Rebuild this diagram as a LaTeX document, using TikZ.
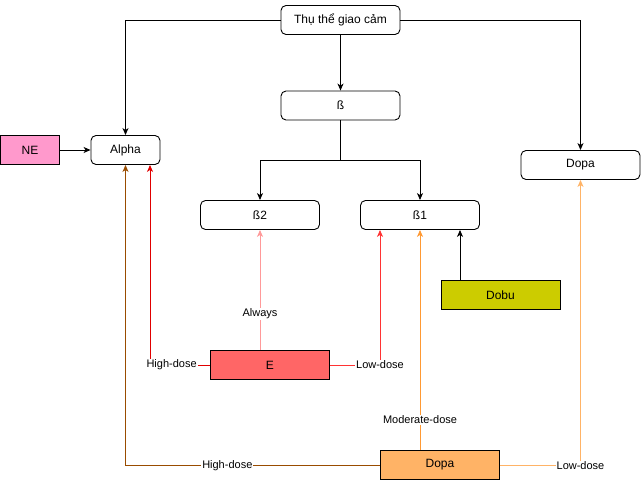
\documentclass[tikz,border=0pt]{standalone}
\usepackage{fontspec}
\setmainfont{Liberation Sans}
\usetikzlibrary{arrows.meta}
\definecolor{nepink}{HTML}{FF99CC}
\definecolor{dobu}{HTML}{CCCC00}
\definecolor{efill}{HTML}{FF6666}
\definecolor{dopafill}{HTML}{FFB366}
\definecolor{cRed}{HTML}{E00000}
\definecolor{cLightRed}{HTML}{FF9999}
\definecolor{cMidRed}{HTML}{FF3333}
\definecolor{cBrown}{HTML}{994C00}
\definecolor{cOrange}{HTML}{FF9933}
\definecolor{cLightOrange}{HTML}{FFB366}
\tikzset{
  box/.style={draw=black, line width=0.9pt, rounded corners=5pt, fill=white,
    minimum width=119pt, minimum height=29pt, inner sep=0pt, font=\fontsize{12}{14}\selectfont},
  sqbox/.style={draw=black, line width=0.9pt, minimum width=119pt, minimum height=29pt,
    inner sep=0pt, font=\fontsize{12}{14}\selectfont},
  conn/.style={line width=0.9pt, -{Stealth[length=7pt,width=6pt,inset=2pt]}},
  lbl/.style={fill=white, inner sep=1pt, font=\fontsize{11}{13}\selectfont}
}
\begin{document}
\begin{tikzpicture}[x=1pt,y=-1pt]
\useasboundingbox (0,0) rectangle (641,481);
% nodes
\node[box] (thu) at (340.5,20) {Thụ thể giao cảm};
\node[box] (beta) at (340.5,105.5) {ß};
\node[sqbox, fill=nepink, minimum width=59pt] (ne) at (30,150) {NE};
\node[box, minimum width=69pt] (alpha) at (125.5,150) {Alpha};
\node[box] (dopaT) at (580.5,165) {Dopa};
\node[box] (b2) at (260,215) {ß2};
\node[box] (b1) at (420,215) {ß1};
\node[sqbox, fill=dobu] (dobu) at (500.5,295) {Dobu};
\node[sqbox, fill=efill] (e) at (270,365) {E};
\node[sqbox, fill=dopafill] (dopaB) at (440,465) {Dopa};
% black connectors
\draw[conn] (thu.west) -| (alpha.north);
\draw[conn] (thu.south) -- (beta.north);
\draw[conn] (thu.east) -| (dopaT.north);
\coordinate (bsplit) at (340.5,160);
\draw[conn] (beta.south) |- (bsplit) -| (b2.north);
\draw[conn] (beta.south) |- (bsplit) -| (b1.north);
\draw[conn] (ne.east) -- (alpha.west);
\draw[conn] (dobu.north -| 460,0) -- (b1.south -| 460,0);
% E connectors
\draw[conn, cLightRed] (e.north -| b2.south) -- (b2.south)
  node[lbl, text=black, pos=0.3] {Always};
\draw[conn, cRed] (e.west) -| (alpha.south -| 150,0)
  node[lbl, text=black, pos=0.32] {High-dose};
\draw[conn, cMidRed] (e.east) -| (b1.south -| 380,0)
  node[lbl, text=black, pos=0.5] {Low-dose};
% Dopa connectors
\draw[conn, cBrown] (dopaB.west) -| (alpha.south)
  node[lbl, text=black, pos=0.30, yshift=-1pt] {High-dose};
\draw[conn, cOrange] (dopaB.north -| b1.south) -- (b1.south)
  node[lbl, text=black, pos=0.137] {Moderate-dose};
\draw[conn, cLightOrange] (dopaB.east) -| (dopaT.south)
  node[lbl, text=black, pos=0.5, yshift=-1pt] {Low-dose};
\end{tikzpicture}
\end{document}
